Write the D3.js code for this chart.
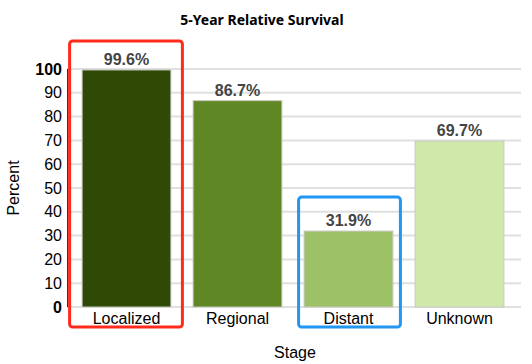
<!DOCTYPE html>
<html>
<head>
<meta charset="utf-8">
<script src="https://cdn.jsdelivr.net/npm/d3@7"></script>
<style>
  body { margin: 0; background: #fff; }
  svg { display: block; font-family: Arial, "Liberation Sans", sans-serif; }
</style>
</head>
<body>
<div id="chart"></div>
<script>
const stages = ["Localized", "Regional", "Distant", "Unknown"]
const survival = [99.6, 86.7, 31.9, 69.7]
const barColors = ["#2f4a04", "#5f8723", "#9dc166", "#d1e9a8"]
const yTicks = [0, 10, 20, 30, 40, 50, 60, 70, 80, 90, 100]
const highlights = [
  {stage: "Localized", color: "#ff2b1c", padL: 13, padR: 12, top: 29},
  {stage: "Distant", color: "#2196f3", padL: 6, padR: 8, top: 34}
]

const width = 532, height = 364

const svg = d3.select("#chart").append("svg")
    .attr("width", width)
    .attr("height", height)

const x = d3.scaleBand()
    .domain(stages)
    .range([71, 515])
    .paddingInner(0.2)
    .paddingOuter(0.1)

const y = d3.scaleLinear()
    .domain([0, 100])
    .range([307, 69])

// gridlines
svg.append("g")
  .selectAll("line")
  .data(yTicks)
  .join("line")
    .attr("x1", 67)
    .attr("x2", 521)
    .attr("y1", d => y(d))
    .attr("y2", d => y(d))
    .attr("stroke", "#e0e0e0")
    .attr("stroke-width", 2)

// y axis line
svg.append("line")
    .attr("x1", 67.5).attr("x2", 67.5)
    .attr("y1", y(100)).attr("y2", y(0))
    .attr("stroke", "#333")
    .attr("stroke-width", 1)

// y tick labels
svg.append("g")
  .selectAll("text")
  .data(yTicks)
  .join("text")
    .attr("x", 62)
    .attr("y", d => y(d))
    .attr("dy", "0.35em")
    .attr("text-anchor", "end")
    .attr("font-size", 16)
    .attr("font-weight", d => (d === 0 || d === 100) ? "bold" : "normal")
    .attr("fill", "#000")
    .text(d => d)

// bars
svg.append("g")
  .selectAll("rect")
  .data(stages)
  .join("rect")
    .attr("x", d => x(d))
    .attr("y", (d, i) => y(survival[i]))
    .attr("width", x.bandwidth())
    .attr("height", (d, i) => y(0) - y(survival[i]))
    .attr("fill", (d, i) => barColors[i])
    .attr("stroke", "#c8c8c0")
    .attr("stroke-width", 1)

// value labels
svg.append("g")
  .selectAll("text")
  .data(stages)
  .join("text")
    .attr("x", d => x(d) + x.bandwidth() / 2)
    .attr("y", (d, i) => y(survival[i]) - 5)
    .attr("text-anchor", "middle")
    .attr("font-size", 16)
    .attr("font-weight", "bold")
    .attr("fill", "#444")
    .text((d, i) => survival[i].toFixed(1) + "%")

// category labels
svg.append("g")
  .selectAll("text")
  .data(stages)
  .join("text")
    .attr("x", d => x(d) + x.bandwidth() / 2)
    .attr("y", 324)
    .attr("text-anchor", "middle")
    .attr("font-size", 16)
    .attr("fill", "#000")
    .text(d => d)

// highlight boxes
svg.append("g")
  .selectAll("rect")
  .data(highlights)
  .join("rect")
    .attr("x", d => x(d.stage) - d.padL + 0.5)
    .attr("y", d => y(survival[stages.indexOf(d.stage)]) - d.top)
    .attr("width", d => x.bandwidth() + d.padL + d.padR - 1)
    .attr("height", d => 328 - (y(survival[stages.indexOf(d.stage)]) - d.top) - 1)
    .attr("rx", 3)
    .attr("fill", "none")
    .attr("stroke", d => d.color)
    .attr("stroke-width", 3)

// titles
svg.append("text")
    .attr("x", 262)
    .attr("y", 25)
    .attr("text-anchor", "middle")
    .attr("font-family", "'Noto Sans', sans-serif")
    .attr("font-size", 14)
    .attr("font-weight", "bold")
    .text("5-Year Relative Survival")

svg.append("text")
    .attr("x", 295)
    .attr("y", 358)
    .attr("text-anchor", "middle")
    .attr("font-size", 16)
    .text("Stage")

svg.append("text")
    .attr("transform", "translate(19,188) rotate(-90)")
    .attr("text-anchor", "middle")
    .attr("font-size", 16)
    .text("Percent")
</script>
</body>
</html>
